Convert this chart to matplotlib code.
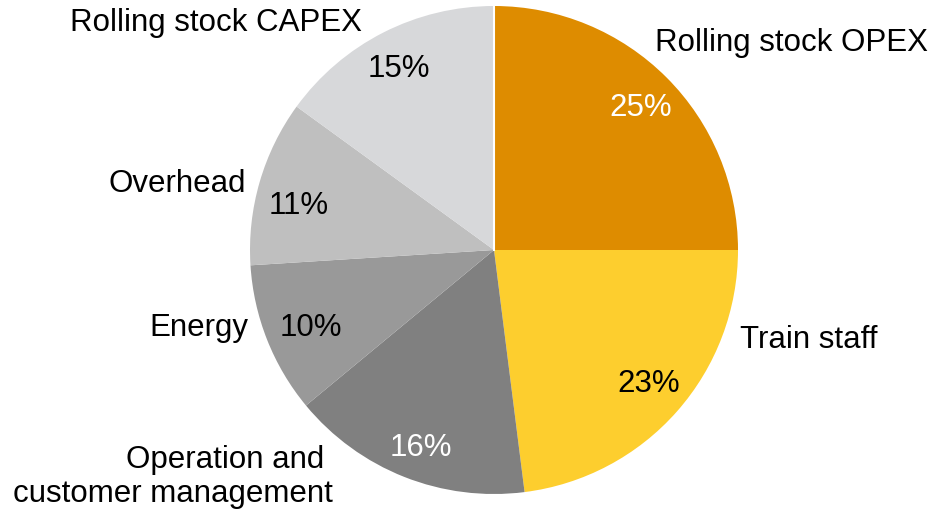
import matplotlib
matplotlib.use("Agg")
import matplotlib.pyplot as plt

plt.rcParams['font.family'] = ['Liberation Sans', 'DejaVu Sans']

categories = ['Rolling stock OPEX', 'Train staff', 'Operation and \ncustomer management',
              'Energy', 'Overhead', 'Rolling stock CAPEX']
shares = [25, 23, 16, 10, 11, 15]
colors = ['#DE8C00', '#FDCE2E', '#808080', '#999999', '#BFBFBF', '#D7D8DA']
pct_colors = ['white', 'black', 'white', 'black', 'black', 'black']

# label placement (axes data units, radius = 1)
label_pos = [(1.22, 0.85), (1.29, -0.37), (-0.66, -0.93), (-1.21, -0.32), (-1.30, 0.27), (-1.14, 0.93)]
label_ha = ['center', 'center', 'right', 'center', 'center', 'center']
pct_pos = [(0.60, 0.58), (0.635, -0.55), (-0.30, -0.81), (-0.75, -0.32), (-0.80, 0.18), (-0.39, 0.74)]

fig = plt.figure(figsize=(9.41, 5.2), dpi=100)
ax = fig.add_axes([250 / 941, 26 / 520, 488 / 941, 488 / 520])

wedges, texts, autotexts = ax.pie(shares, labels=categories, colors=colors, startangle=90,
                                  counterclock=False, autopct='%d%%',
                                  wedgeprops={'linewidth': 0})
for t, p, ha in zip(texts, label_pos, label_ha):
    t.set_position(p)
    t.set_ha(ha)
    t.set_va('center')
    t.set_fontsize(22.5)
    t.set_multialignment(ha)
for t, p, c in zip(autotexts, pct_pos, pct_colors):
    t.set_position(p)
    t.set_fontsize(22.5)
    t.set_color(c)

# thin gap at the top between the first and last slice
ax.plot([0, 0], [0, 1.0], color='white', lw=1.5)

ax.set_xlim(-1, 1)
ax.set_ylim(-1, 1)
ax.set_aspect('equal')
ax.axis('off')

fig.savefig('out.png', dpi=100)
